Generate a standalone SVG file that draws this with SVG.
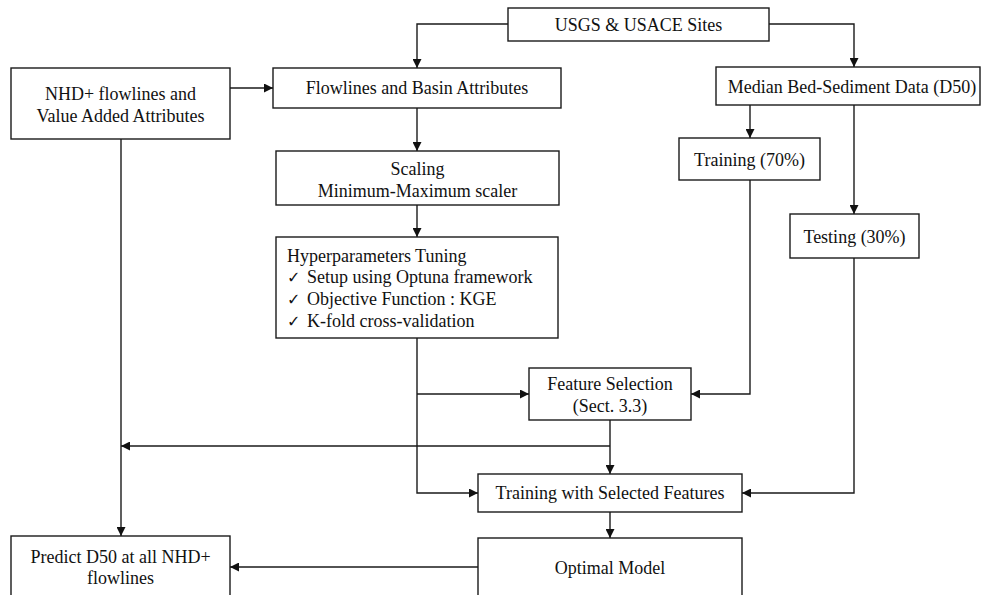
<svg xmlns="http://www.w3.org/2000/svg" width="982" height="595" viewBox="0 0 982 595">
<style>
.box{fill:#fff;stroke:#1a1a1a;stroke-width:1.4}
.t{font-family:"Liberation Serif","Times New Roman","DejaVu Serif",serif;font-size:18px;fill:#111}
.c{text-anchor:middle}
.ck{font-family:"DejaVu Sans",sans-serif;font-size:16px;fill:#111}
.ln{fill:none;stroke:#1a1a1a;stroke-width:1.4}
</style>
<defs>
<marker id="ah" markerUnits="userSpaceOnUse" markerWidth="9" markerHeight="9" refX="9" refY="4.5" orient="auto" viewBox="0 0 9 9">
<path d="M0,0 L9,4.5 L0,9 z" fill="#111"/>
</marker>
</defs>
<rect width="982" height="595" fill="#fff"/>
<g id="connectors">
<path class="ln" d="M508,24 H417 V68" marker-end="url(#ah)"/>
<path class="ln" d="M769,24 H854 V67" marker-end="url(#ah)"/>
<path class="ln" d="M230,88 H273" marker-end="url(#ah)"/>
<path class="ln" d="M417,108 V151" marker-end="url(#ah)"/>
<path class="ln" d="M417,205 V237" marker-end="url(#ah)"/>
<path class="ln" d="M750,105 V138" marker-end="url(#ah)"/>
<path class="ln" d="M854,105 V214" marker-end="url(#ah)"/>
<path class="ln" d="M417,338 V493 H478" marker-end="url(#ah)"/>
<path class="ln" d="M417,394 H529" marker-end="url(#ah)"/>
<path class="ln" d="M750,180 V394 H691" marker-end="url(#ah)"/>
<path class="ln" d="M610,420 V474" marker-end="url(#ah)"/>
<path class="ln" d="M610,446 H121" marker-end="url(#ah)"/>
<path class="ln" d="M854,258 V493 H742" marker-end="url(#ah)"/>
<path class="ln" d="M121,139 V536" marker-end="url(#ah)"/>
<path class="ln" d="M610,512 V538" marker-end="url(#ah)"/>
<path class="ln" d="M478,567 H230" marker-end="url(#ah)"/>
</g>
<g id="usgs">
<rect class="box" x="508" y="8" width="261" height="33"/>
<text class="t c" x="638.5" y="30.5">USGS &amp; USACE Sites</text>
</g>
<g id="nhd">
<rect class="box" x="11" y="68" width="219" height="71"/>
<text class="t c" x="120.5" y="100">NHD+ flowlines and</text>
<text class="t c" x="120.5" y="122">Value Added Attributes</text>
</g>
<g id="flowlines">
<rect class="box" x="273" y="68" width="288" height="40"/>
<text class="t c" x="417" y="94">Flowlines and Basin Attributes</text>
</g>
<g id="median">
<rect class="box" x="716" y="67" width="264" height="38"/>
<text class="t c" x="852" y="92.5">Median Bed-Sediment Data (D50)</text>
</g>
<g id="scaling">
<rect class="box" x="276" y="151" width="283" height="54"/>
<text class="t c" x="417.5" y="175">Scaling</text>
<text class="t c" x="417.5" y="197">Minimum-Maximum scaler</text>
</g>
<g id="training70">
<rect class="box" x="679" y="138" width="141" height="42"/>
<text class="t c" x="749.5" y="165.5">Training (70%)</text>
</g>
<g id="testing30">
<rect class="box" x="790" y="214" width="129" height="44"/>
<text class="t c" x="854.5" y="242.5">Testing (30%)</text>
</g>
<g id="hyper">
<rect class="box" x="276" y="237" width="282" height="101"/>
<text class="t" x="287" y="262">Hyperparameters Tuning</text>
<text x="287" y="283"><tspan class="ck">✓</tspan><tspan class="t" x="307">Setup using Optuna framework</tspan></text>
<text x="287" y="305"><tspan class="ck">✓</tspan><tspan class="t" x="307">Objective Function : KGE</tspan></text>
<text x="287" y="327"><tspan class="ck">✓</tspan><tspan class="t" x="307">K-fold cross-validation</tspan></text>
</g>
<g id="featsel">
<rect class="box" x="529" y="368" width="162" height="52"/>
<text class="t c" x="610" y="390">Feature Selection</text>
<text class="t c" x="610" y="412">(Sect. 3.3)</text>
</g>
<g id="trainsel">
<rect class="box" x="478" y="474" width="264" height="38"/>
<text class="t c" x="610" y="499">Training with Selected Features</text>
</g>
<g id="optimal">
<rect class="box" x="478" y="538" width="264" height="70"/>
<text class="t c" x="610" y="574">Optimal Model</text>
</g>
<g id="predict">
<rect class="box" x="11" y="536" width="219" height="72"/>
<text class="t c" x="120.5" y="563">Predict D50 at all NHD+</text>
<text class="t c" x="120.5" y="584">flowlines</text>
</g>
</svg>
